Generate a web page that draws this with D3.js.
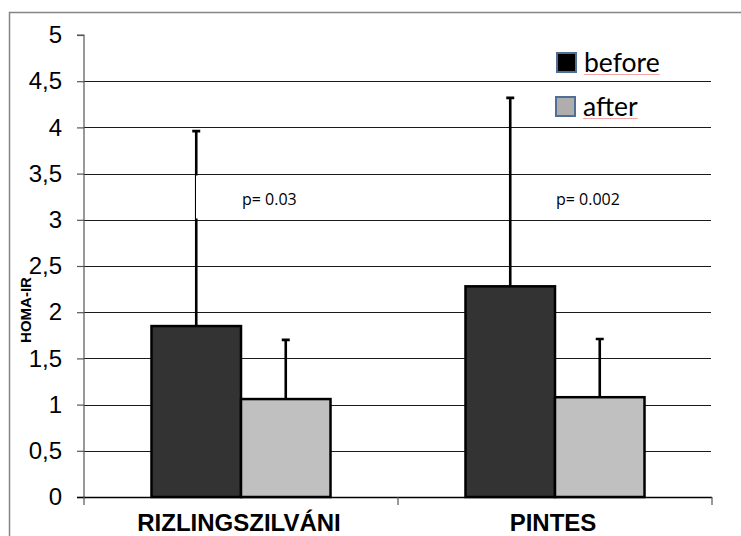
<!DOCTYPE html>
<html>
<head>
<meta charset="utf-8">
<script src="https://cdn.jsdelivr.net/npm/d3@7"></script>
<style>
  body { margin: 0; background: #fff; }
  svg { display: block; }
</style>
</head>
<body>
<div id="chart"></div>
<script>
// data
var categories = ["RIZLINGSZILVÁNI", "PINTES"];
var series = ["before", "after"];
var beforeValues = [1.85, 2.28];
var afterValues = [1.06, 1.08];
var beforeSD = [2.11, 2.04];
var afterSD = [0.64, 0.63];
var pLabels = ["p= 0.03", "p= 0.002"];
var yTicks = [0, 0.5, 1, 1.5, 2, 2.5, 3, 3.5, 4, 4.5, 5];

var svgWidth = 741;
var svgHeight = 536;

var plot = { left: 84, right: 712, top: 35, bottom: 497 };

var colors = { before: "#333333", after: "#c0c0c0" };
var legendColors = { before: "#000000", after: "#b0adad" };

var svg = d3.select("#chart")
  .append("svg")
  .attr("width", svgWidth)
  .attr("height", svgHeight);

// outer frame
svg.append("rect")
  .attr("x", 9.5)
  .attr("y", 12.5)
  .attr("width", 800)
  .attr("height", 600)
  .attr("fill", "none")
  .attr("stroke", "#858585")
  .attr("stroke-width", 1.5);

var x0 = d3.scaleBand()
  .domain(categories)
  .range([plot.left, plot.right])
  .paddingInner(0)
  .paddingOuter(0);

var x1 = d3.scaleBand()
  .domain(series)
  .range([0, x0.bandwidth()])
  .paddingInner(0)
  .paddingOuter(0.754);

var y = d3.scaleLinear()
  .domain([0, 5])
  .range([plot.bottom, plot.top]);

// gridlines
svg.append("g")
  .selectAll("line")
  .data(yTicks.filter((d) => d > 0 && d < 5))
  .enter()
  .append("line")
  .attr("x1", plot.left)
  .attr("x2", plot.right - 1)
  .attr("y1", (d) => Math.round(y(d)) + 0.5)
  .attr("y2", (d) => Math.round(y(d)) + 0.5)
  .attr("stroke", "#1a1a1a")
  .attr("stroke-width", 1.2);

// y axis
var yAxis = svg.append("g")
  .attr("transform", `translate(${plot.left}, 0)`)
  .call(d3.axisLeft(y)
    .tickValues(yTicks)
    .tickSize(7)
    .tickPadding(15)
    .tickFormat((d) => String(d).replace(".", ",")));

yAxis.select(".domain").attr("stroke", "#555").attr("stroke-width", 1.2)
  .attr("d", `M-7,${y(5)}H0V${plot.bottom}`);
yAxis.selectAll(".tick line").attr("stroke", "#555").attr("stroke-width", 1.2);
yAxis.selectAll(".tick text")
  .attr("font-family", "Liberation Sans, Arial, sans-serif")
  .attr("font-size", "24px")
  .attr("fill", "#000");

// bars
var groups = svg.append("g")
  .selectAll("g")
  .data(categories)
  .enter()
  .append("g")
  .attr("transform", (d) => `translate(${x0(d)}, 0)`);

var barData = function (d, i) {
  return [
    { key: "before", value: beforeValues[i], sd: beforeSD[i] },
    { key: "after", value: afterValues[i], sd: afterSD[i] },
  ];
};

// error bars (drawn under the bars, upward only)
groups.selectAll(".err")
  .data(barData)
  .enter()
  .append("path")
  .attr("class", "err")
  .attr("d", function (d) {
    var cx = x1(d.key) + x1.bandwidth() / 2;
    var top = y(d.value + d.sd);
    return `M${cx},${y(d.value)}V${top}M${cx - 4},${top}H${cx + 4}`;
  })
  .attr("fill", "none")
  .attr("stroke", "#000")
  .attr("stroke-width", 2.6);

groups.selectAll("rect")
  .data(barData)
  .enter()
  .append("rect")
  .attr("x", (d) => x1(d.key))
  .attr("y", (d) => y(d.value))
  .attr("width", x1.bandwidth())
  .attr("height", (d) => y(0) - y(d.value))
  .attr("fill", (d) => colors[d.key])
  .attr("stroke", "#000")
  .attr("stroke-width", 2.5);

// x axis
svg.append("line")
  .attr("x1", plot.left - 7)
  .attr("x2", plot.right)
  .attr("y1", plot.bottom + 0.5)
  .attr("y2", plot.bottom + 0.5)
  .attr("stroke", "#000")
  .attr("stroke-width", 1.3);

var xTicks = categories.map((d) => x0(d)).concat([plot.right]);
svg.append("g")
  .selectAll("line")
  .data(xTicks)
  .enter()
  .append("line")
  .attr("x1", (d) => d)
  .attr("x2", (d) => d)
  .attr("y1", plot.bottom)
  .attr("y2", plot.bottom + 8)
  .attr("stroke", "#555")
  .attr("stroke-width", 1.2);

svg.append("g")
  .selectAll("text")
  .data(categories)
  .enter()
  .append("text")
  .attr("x", (d) => x0(d) + x0.bandwidth() / 2 - 2)
  .attr("y", 531)
  .attr("text-anchor", "middle")
  .attr("font-family", "Liberation Sans, Arial, sans-serif")
  .attr("font-weight", "bold")
  .attr("font-size", "24px")
  .text((d) => d);

// y axis title
svg.append("text")
  .attr("transform", "translate(31, 310) rotate(-90)")
  .attr("text-anchor", "middle")
  .attr("font-family", "Liberation Sans, Arial, sans-serif")
  .attr("font-weight", "bold")
  .attr("font-size", "15px")
  .text("HOMA-IR");

// p value notes (first one sits in a white box over the error bar)
svg.append("rect")
  .attr("x", 196)
  .attr("y", 175.5)
  .attr("width", 110)
  .attr("height", 43)
  .attr("fill", "#fff");

svg.append("g")
  .selectAll("text")
  .data(pLabels)
  .enter()
  .append("text")
  .attr("x", (d, i) => x0(categories[i]) + x1("after") + 1)
  .attr("y", 205)
  .attr("font-family", "Open Sans, sans-serif")
  .attr("font-size", "16px")
  .text((d) => d);

// legend
var legend = svg.append("g")
  .selectAll("g")
  .data(series)
  .enter()
  .append("g")
  .attr("transform", (d, i) => `translate(${557 - i}, ${53 + i * 44})`);

legend.append("rect")
  .attr("width", 19)
  .attr("height", 19)
  .attr("fill", (d) => legendColors[d])
  .attr("stroke", "#4f6f96")
  .attr("stroke-width", 2);

legend.append("text")
  .attr("x", 27)
  .attr("y", 19)
  .attr("font-family", "Lato, sans-serif")
  .attr("font-size", "26.5px")
  .text((d) => d);

legend.append("line")
  .attr("x1", 27)
  .attr("x2", function () {
    return 27 + this.parentNode.querySelector("text").getComputedTextLength();
  })
  .attr("y1", 21.5)
  .attr("y2", 21.5)
  .attr("stroke", "#f2a5a5")
  .attr("stroke-width", 1);
</script>
</body>
</html>
